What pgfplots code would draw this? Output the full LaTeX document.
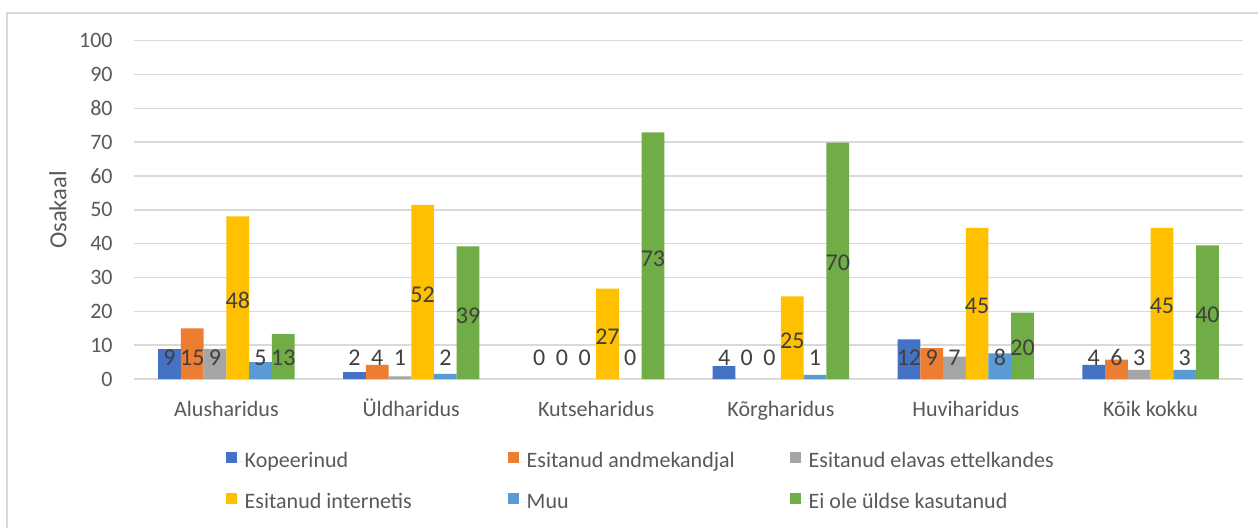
\documentclass[border=0pt]{standalone}
\usepackage{pgfplots}
\pgfplotsset{compat=1.18}
\usepackage{pgfplotstable}
\usepackage{fontspec}
\setmainfont{Carlito}
\definecolor{cA}{HTML}{4472C4}
\definecolor{cB}{HTML}{ED7D31}
\definecolor{cC}{HTML}{A5A5A5}
\definecolor{cD}{HTML}{FFC000}
\definecolor{cE}{HTML}{5B9BD5}
\definecolor{cF}{HTML}{70AD47}
\definecolor{txt}{HTML}{595959}
\definecolor{lab}{HTML}{404040}
\definecolor{grd}{HTML}{D9D9D9}

\pgfplotstableread{
x y ly lab
0 8.8 6.3 9
1 2.0 6.3 2
2 0 6.3 0
3 3.8 6.3 4
4 11.7 6.3 12
5 4.2 6.3 4
}\sA
\pgfplotstableread{
x y ly lab
0 15.0 6.3 15
1 4.2 6.3 4
2 0 6.3 0
3 0 6.3 0
4 9.1 6.3 9
5 5.7 6.3 6
}\sB
\pgfplotstableread{
x y ly lab
0 8.9 6.3 9
1 0.8 6.3 1
2 0 6.3 0
3 0 6.3 0
4 6.6 6.3 7
5 2.7 6.3 3
}\sC
\pgfplotstableread{
x y ly lab
0 48.1 23.1 48
1 51.5 24.9 52
2 26.7 12.6 27
3 24.4 11.4 25
4 44.7 21.5 45
5 44.7 21.5 45
}\sD
\pgfplotstableread{
x y ly lab
0 5.0 6.3 5
1 1.5 6.3 2
2 0 6.3 0
3 1.2 6.3 1
4 7.6 6.3 8
5 2.7 6.3 3
}\sE
\pgfplotstableread{
x y ly lab
0 13.3 6.3 13
1 39.2 18.7 39
2 72.9 35.6 73
3 69.9 34.3 70
4 19.6 9.1 20
5 39.5 19.0 40
}\sF

\newcommand{\lt}[1]{\makebox[131.75pt][l]{\rule[-3pt]{0pt}{10.5pt}#1}}

\begin{document}
\begin{tikzpicture}
\useasboundingbox (-67pt,-74pt) rectangle (562pt,189.5pt);
\fill[white] (-67pt,-74pt) rectangle (562pt,189.5pt);
\draw[grd, line width=0.75pt] (-63.5pt,-80pt) -- (-63.5pt,183pt) -- (570pt,183pt);
\begin{axis}[
  at={(0,0)}, anchor=south west,
  scale only axis, width=554.5pt, height=169.15pt,
  xmin=-0.5, xmax=5.5, ymin=0, ymax=100,
  xtick={0,...,5},
  xticklabels={Alusharidus,Üldharidus,Kutseharidus,Kõrgharidus,Huviharidus,Kõik kokku},
  ytick={0,10,...,100},
  /pgf/number format/assume math mode=true,
  axis line style={draw=none},
  tick style={draw=none},
  ymajorgrids,
  major grid style={draw=grd, line width=0.75pt},
  tick label style={font=\fontsize{11}{13.2}\selectfont, text=txt},
  xticklabel style={anchor=base, yshift=-18.75pt},
  yticklabel style={anchor=east, inner sep=0pt, xshift=-10.5pt},
  ylabel={Osakaal},
  every axis y label/.style={at={(axis description cs:-0.0685,0.5)}, rotate=90, anchor=center,
    font=\fontsize{12.3}{14}\selectfont, text=txt},
  bar width=0.123,
  nodes near coords style={font=\fontsize{12}{14}\selectfont, text=lab, anchor=center,
    inner sep=0pt, opacity=1, text opacity=1},
  legend columns=3,
  legend cell align=left,
  legend style={draw=none, fill=none, inner sep=0pt, column sep=0pt, row sep=11pt,
    font=\fontsize{11}{13.2}\selectfont, text=txt,
    at={(axis description cs:0.0828,-0.2143)}, anchor=north west,
    nodes={inner sep=0pt}},
  legend image code/.code={
    \fill[#1] (0pt,-0.6pt) rectangle (5.5pt,4.9pt);
    \path (0pt,0pt) -- (9.25pt,0pt);
  },
  bars/.style={ybar, draw=none, restrict y to domain=0.01:100, unbounded coords=discard},
  lbl/.style={only marks, mark=*, mark size=0.01pt,
    mark options={draw opacity=0, fill opacity=0},
    scatter/use mapped color={draw opacity=0, fill opacity=0},
    forget plot,
    nodes near coords, point meta=explicit symbolic},
]
\addplot[bars, fill=cA, bar shift=-0.3075] table[x=x,y=y]{\sA};
\addlegendentry{\lt{Kopeerinud}}
\addplot[bars, fill=cB, bar shift=-0.1845] table[x=x,y=y]{\sB};
\addlegendentry{\lt{Esitanud andmekandjal}}
\addplot[bars, fill=cC, bar shift=-0.0615] table[x=x,y=y]{\sC};
\addlegendentry{\lt{Esitanud elavas ettelkandes}}
\addplot[bars, fill=cD, bar shift=0.0615] table[x=x,y=y]{\sD};
\addlegendentry{\lt{Esitanud internetis}}
\addplot[bars, fill=cE, bar shift=0.1845] table[x=x,y=y]{\sE};
\addlegendentry{\lt{Muu}}
\addplot[bars, fill=cF, bar shift=0.3075] table[x=x,y=y]{\sF};
\addlegendentry{\lt{Ei ole üldse kasutanud}}

\addplot[lbl] table[x expr=\thisrow{x}-0.3075,y=ly,meta=lab]{\sA};
\addplot[lbl] table[x expr=\thisrow{x}-0.1845,y=ly,meta=lab]{\sB};
\addplot[lbl] table[x expr=\thisrow{x}-0.0615,y=ly,meta=lab]{\sC};
\addplot[lbl] table[x expr=\thisrow{x}+0.0615,y=ly,meta=lab]{\sD};
\addplot[lbl] table[x expr=\thisrow{x}+0.1845,y=ly,meta=lab]{\sE};
\addplot[lbl] table[x expr=\thisrow{x}+0.3075,y=ly,meta=lab]{\sF};
\end{axis}
\end{tikzpicture}
\end{document}
